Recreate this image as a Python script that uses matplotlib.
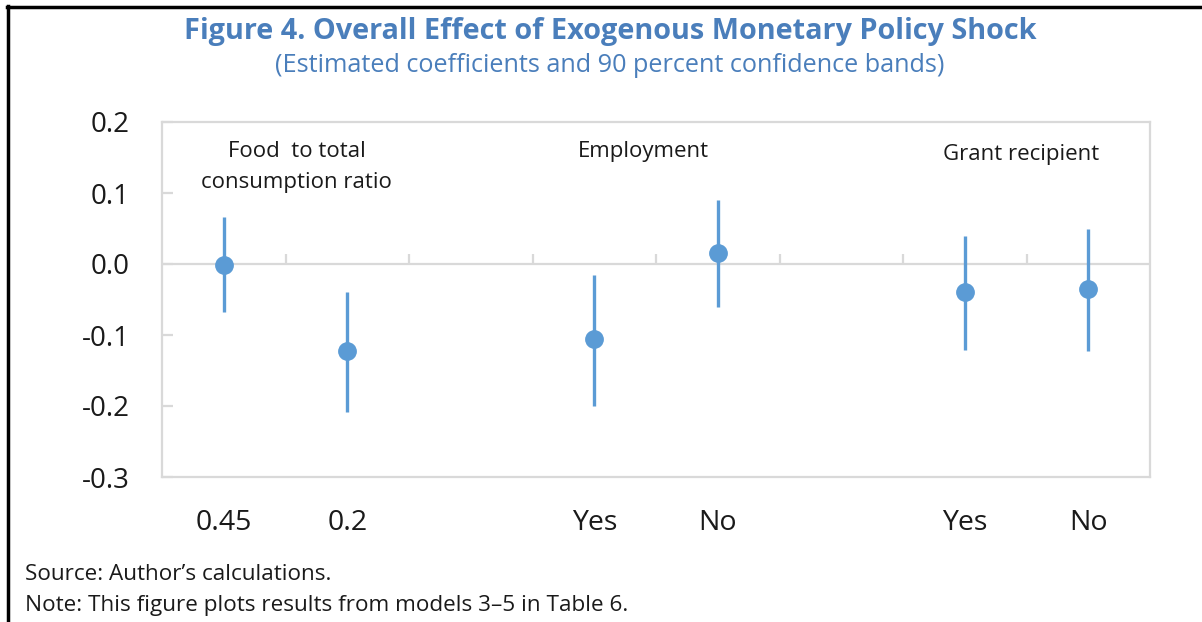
import matplotlib
matplotlib.use("Agg")
import matplotlib.pyplot as plt
from matplotlib.lines import Line2D

plt.rcParams['font.family'] = ['Open Sans', 'DejaVu Sans']

# data
labels = ['0.45', '0.2', '', 'Yes', 'No', '', 'Yes', 'No']
coef = [-0.001, -0.123, None, -0.106, 0.0155, None, -0.040, -0.035]
upper = [0.066, -0.039, None, -0.015, 0.090, None, 0.040, 0.050]
lower = [-0.068, -0.209, None, -0.200, -0.060, None, -0.121, -0.123]
groups = ['Food  to total\nconsumption ratio', 'Employment', 'Grant recipient']
group_x = [0.59, 3.40, 6.46]
group_y = [0.137, 0.158, 0.154]

blue = '#5B9BD5'
title_blue = '#4A7EBB'
grey = '#D9D9D9'

fig = plt.figure(figsize=(12.02, 6.22), dpi=100)
ax = fig.add_axes([162 / 1202, 1 - 477 / 622, 988 / 1202, 355 / 622])

xs = [i for i in range(len(labels)) if coef[i] is not None]
for i in xs:
    ax.plot([i, i], [lower[i], upper[i]], color=blue, lw=2.4, solid_capstyle='butt', zorder=3)
ax.plot(xs, [coef[i] for i in xs], 'o', color=blue, ms=12.5, zorder=4)

ax.set_xlim(-0.5, len(labels) - 0.5)
ax.set_ylim(-0.3, 0.2)

# zero line with category separators
ax.axhline(0, color=grey, lw=1.6, zorder=1)
ax.vlines([k + 0.5 for k in range(len(labels) - 1)], 0, 0.0145, color=grey, lw=1.6, zorder=1)

yt = [-0.3, -0.2, -0.1, 0.0, 0.1, 0.2]
ax.set_yticks(yt)
ax.set_yticklabels(['%.1f' % v for v in yt], fontsize=20, color='#1a1a1a')
ax.tick_params(axis='y', direction='in', length=8, width=1.6, color=grey, pad=23)

ax.set_xticks(range(len(labels)))
ax.set_xticklabels(labels, fontsize=20.5, color='#1a1a1a')
ax.tick_params(axis='x', length=0, pad=23)

for s in ax.spines.values():
    s.set_color(grey)
    s.set_linewidth(1.6)

for txt, gx, gy in zip(groups, group_x, group_y):
    ax.text(gx, gy, txt, ha='center', va='center', fontsize=16, color='#1a1a1a', linespacing=1.65)

fig.text(610 / 1202, 1 - 31 / 622, 'Figure 4. Overall Effect of Exogenous Monetary Policy Shock',
         ha='center', va='center', fontsize=20.8, fontweight='bold', color=title_blue)
fig.text(610 / 1202, 1 - 66 / 622, '(Estimated coefficients and 90 percent confidence bands)',
         ha='center', va='center', fontsize=18.2, color=title_blue)

fig.text(25 / 1202, 1 - 574 / 622, 'Source: Author\u2019s calculations.', ha='left', va='center',
         fontsize=16.2, color='#1a1a1a')
fig.text(25 / 1202, 1 - 606 / 622, 'Note: This figure plots results from models 3\u20135 in Table 6.',
         ha='left', va='center', fontsize=16.2, color='#1a1a1a')

# frame of the original box (left and top edges)
fig.add_artist(Line2D([7.5 / 1202, 7.5 / 1202], [0, 1 - 6 / 622], color='black', lw=2.5, transform=fig.transFigure))
fig.add_artist(Line2D([6.5 / 1202, 1], [1 - 6.5 / 622, 1 - 6.5 / 622], color='black', lw=2.5, transform=fig.transFigure))

fig.savefig('out.png', dpi=100)
